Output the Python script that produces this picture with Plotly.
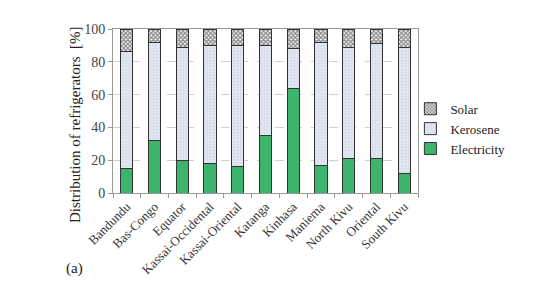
import plotly.graph_objects as go

provinces = ["Bandundu", "Bas-Congo", "Equator", "Kassai-Occidental", "Kassai-Oriental",
             "Katanga", "Kinhasa", "Maniema", "North Kivu", "Oriental", "South Kivu"]
electricity = [15, 32, 20, 18, 16, 35, 64, 17, 21, 21, 12]
kerosene = [71, 60, 69, 72, 74, 55, 24, 75, 68, 70, 77]
solar = [14, 8, 11, 10, 10, 10, 12, 8, 11, 9, 11]

FONT = "Liberation Serif, Times New Roman, serif"
line = dict(color="#333333", width=1)

fig = go.Figure()
fig.add_trace(go.Bar(x=provinces, y=electricity, name="Electricity",
                     marker=dict(color="#3db46b", line=line)))
fig.add_trace(go.Bar(x=provinces, y=kerosene, name="Kerosene",
                     marker=dict(color="#dfe5f2", line=line,
                                 pattern=dict(shape=".", fgcolor="#c4cad8", bgcolor="#e1e7f3",
                                              size=3, solidity=0.3))))
fig.add_trace(go.Bar(x=provinces, y=solar, name="Solar",
                     marker=dict(color="#ffffff", line=line,
                                 pattern=dict(shape="x", fgcolor="#111111", bgcolor="#ffffff",
                                              size=3, solidity=0.65))))

fig.update_layout(
    width=552, height=281,
    barmode="stack", bargap=0.56,
    paper_bgcolor="white", plot_bgcolor="white",
    margin=dict(l=105, r=142, t=21, b=96),
    font=dict(family=FONT, size=13, color="#333333"),
    legend=dict(x=0.975, y=0.605, xanchor="left", yanchor="top",
                traceorder="reversed", font=dict(family=FONT, size=13, color="#222222"),
                itemwidth=30, tracegroupgap=0, bgcolor="rgba(0,0,0,0)"),
    showlegend=True,
)
fig.update_yaxes(range=[0, 100], dtick=20, showgrid=True, gridcolor="#cfcfcf", griddash="dash",
                 zeroline=False, showline=True, linecolor="#999999", mirror=True,
                 ticks="outside", ticklen=4, tickcolor="#999999",
                 tickfont=dict(family=FONT, size=14, color="#444444"))
fig.update_xaxes(showline=True, linecolor="#999999", mirror=True, tickangle=-45,
                 ticks="outside", ticklen=4, tickcolor="#999999", tickson="boundaries",
                 tickfont=dict(family=FONT, size=13, color="#333333"))
fig.add_annotation(text="Distribution of refrigerators  [%]", xref="paper", yref="paper",
                   x=-0.125, y=0.42, xanchor="center", yanchor="middle", textangle=-90,
                   showarrow=False, font=dict(family=FONT, size=15, color="#222222"))
fig.add_annotation(text="(a)", xref="paper", yref="paper", x=-0.125, y=-0.46,
                   xanchor="center", yanchor="middle",
                   showarrow=False, font=dict(family=FONT, size=15, color="#222222"))
fig.write_html("out.html")
